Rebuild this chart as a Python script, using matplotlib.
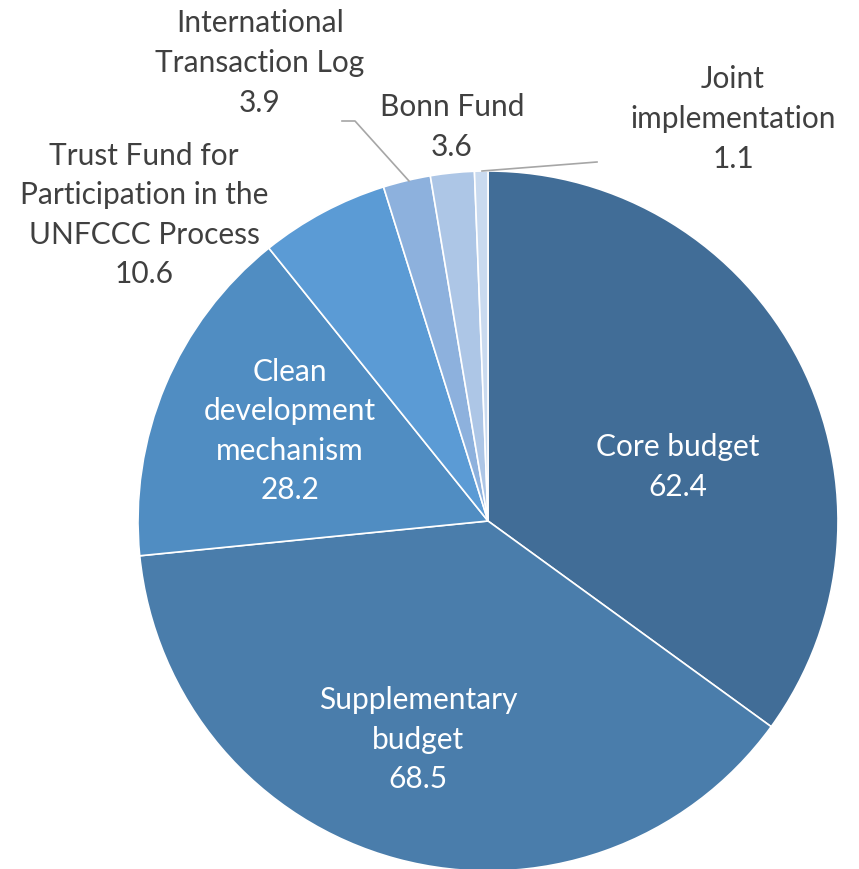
import matplotlib
matplotlib.use("Agg")
import matplotlib.pyplot as plt

labels = ["Core budget", "Supplementary\nbudget", "Clean\ndevelopment\nmechanism",
          "Trust Fund for\nParticipation in the\nUNFCCC Process",
          "International\nTransaction Log", "Bonn Fund", "Joint\nimplementation"]
values = [62.4, 68.5, 28.2, 10.6, 3.9, 3.6, 1.1]
colors = ["#416d97", "#4a7dab", "#508dc2", "#5b9bd5", "#8db1dd", "#adc6e6", "#c9daef"]

W, H = 859, 869
fig = plt.figure(figsize=(W / 100, H / 100), dpi=100)
ax = fig.add_axes([0, 0, 1, 1])

cx, cy, R = 488, H - 521, 350
ax.pie(values, colors=colors, startangle=90, counterclock=False,
       center=(cx, cy), radius=R, frame=True,
       wedgeprops=dict(edgecolor="white", linewidth=1.2))
ax.set_xlim(0, W)
ax.set_ylim(0, H)
ax.set_aspect("equal")
ax.axis("off")

font = "Lato"
fs = 21.5
# label positions in pixel coords (center of text block), text colours
pos = [(678, 467, "white"), (418, 740, "white"), (290, 431, "white"),
       (144, 215, "#404040"), (260, 63, "#404040"), (452, 127, "#404040"),
       (733, 119, "#404040")]
for lab, v, (px, py, c) in zip(labels, values, pos):
    ax.text(px, H - py, f"{lab}\n{v}", ha="center", va="center", color=c,
            fontsize=fs, family=font, linespacing=1.5)

# leader lines
ax.plot([342, 355, 409], [H - 121, H - 121, H - 181], color="#a6a6a6", lw=1.2)
ax.plot([482, 597], [H - 171, H - 162], color="#a6a6a6", lw=1.2)

fig.savefig("out.png", dpi=100)
